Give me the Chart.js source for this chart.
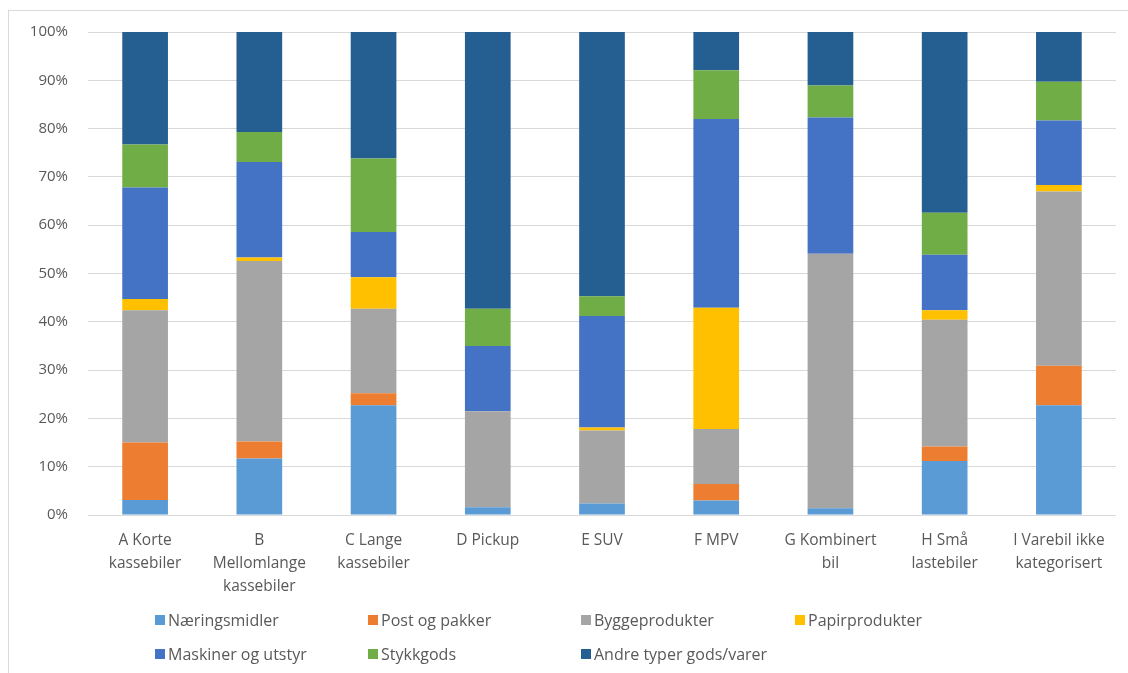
<!DOCTYPE html>
<html>
<head>
<meta charset="utf-8">
<script src="https://cdn.jsdelivr.net/npm/chart.js@4/dist/chart.umd.min.js"></script>
<style>
  html, body { margin: 0; padding: 0; background: #fff; }
  body { width: 1128px; height: 673px; position: relative; overflow: hidden; font-family: "Open Sans", sans-serif; }
  #frame { position: absolute; left: 8px; top: 10px; width: 1200px; height: 700px; border: 1px solid #d9d9d9; box-sizing: border-box; }
  #wrap { position: absolute; left: 0; top: 3px; width: 1128px; height: 609px; }
  #legend { position: absolute; left: 155px; top: 609px; display: grid; grid-template-columns: 213px 213px 214px 214px; row-gap: 12px; }
  .item { display: flex; align-items: center; font-size: 16px; color: #595959; height: 22px; white-space: nowrap; }
  .box { width: 10px; height: 10px; margin-right: 3px; }
</style>
</head>
<body>
<div id="frame"></div>
<div id="wrap"><canvas id="chart"></canvas></div>
<div id="legend"></div>
<script>
const categories = [
  ['A Korte', 'kassebiler'],
  ['B', 'Mellomlange', 'kassebiler'],
  ['C Lange', 'kassebiler'],
  'D Pickup',
  'E SUV',
  'F MPV',
  ['G Kombinert', 'bil'],
  ['H Små', 'lastebiler'],
  ['I Varebil ikke', 'kategorisert']
];

const seriesNames = ['Næringsmidler', 'Post og pakker', 'Byggeprodukter', 'Papirprodukter',
  'Maskiner og utstyr', 'Stykkgods', 'Andre typer gods/varer'];

// shares in percent, per category
const naeringsmidler = [3.1, 11.7, 22.7, 1.6, 2.4, 3.0, 1.4, 11.2, 22.7];
const postOgPakker   = [11.9, 3.5, 2.5, 0, 0, 3.4, 0, 3.0, 8.2];
const byggeprodukter = [27.4, 37.4, 17.5, 19.9, 15.1, 11.4, 52.7, 26.2, 36.1];
const papirprodukter = [2.3, 0.7, 6.5, 0, 0.6, 25.1, 0, 2.0, 1.3];
const maskiner       = [23.1, 19.8, 9.4, 13.5, 23.1, 39.1, 28.2, 11.5, 13.4];
const stykkgods      = [8.9, 6.2, 15.2, 7.7, 4.1, 10.1, 6.6, 8.7, 8.0];
const andre          = [23.3, 20.7, 26.2, 57.3, 54.7, 7.9, 11.1, 37.4, 10.3];

const yTicks = [0, 10, 20, 30, 40, 50, 60, 70, 80, 90, 100];

const colors = ['#5B9BD5', '#ED7D31', '#A5A5A5', '#FFC000', '#4472C4', '#70AD47', '#255E91'];
const values = [naeringsmidler, postOgPakker, byggeprodukter, papirprodukter, maskiner, stykkgods, andre];

const datasets = seriesNames.map((name, i) => ({
  label: name,
  data: values[i],
  backgroundColor: colors[i],
  borderWidth: 0,
  categoryPercentage: 1,
  barPercentage: 0.4
}));

const chart = new Chart(document.getElementById('chart').getContext('2d'), {
  type: 'bar',
  data: { labels: categories, datasets: datasets },
  options: {
    responsive: true,
    maintainAspectRatio: false,
    animation: false,
    layout: { padding: { top: 25, right: 12, left: 0, bottom: 0 } },
    plugins: { legend: { display: false }, tooltip: { enabled: false } },
    scales: {
      x: {
        stacked: true,
        grid: { display: false },
        border: { display: false },
        ticks: { color: '#595959', font: { family: 'Open Sans', size: 15.5, lineHeight: 1.48 }, padding: 6, maxRotation: 0, autoSkip: false },
        afterFit: s => { s.height = 97; }
      },
      y: {
        stacked: true,
        min: 0,
        max: 100,
        afterBuildTicks: s => { s.ticks = yTicks.map(v => ({ value: v })); },
        grid: { color: '#d9d9d9', lineWidth: 1, drawTicks: false },
        border: { display: false },
        ticks: { color: '#595959', font: { family: 'Open Sans', size: 15 }, padding: 20, callback: v => v + '%' },
        afterFit: s => { s.width = 88; }
      }
    }
  }
});

const legend = document.getElementById('legend');
chart.data.datasets.forEach(ds => {
  const item = document.createElement('div');
  item.className = 'item';
  const box = document.createElement('span');
  box.className = 'box';
  box.style.background = ds.backgroundColor;
  item.appendChild(box);
  item.appendChild(document.createTextNode(ds.label));
  legend.appendChild(item);
});
</script>
</body>
</html>
